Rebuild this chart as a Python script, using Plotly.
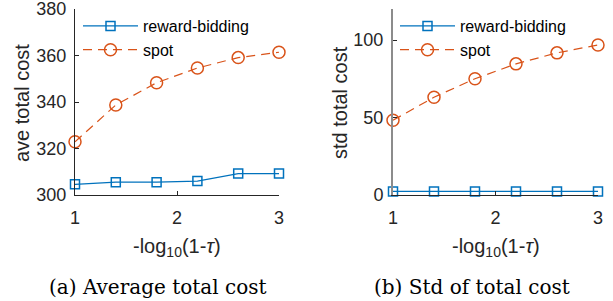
import plotly.graph_objects as go

x_vals = [1.0, 1.4, 1.8, 2.2, 2.6, 3.0]
ave_reward = [304.6, 305.5, 305.5, 306.0, 309.2, 309.2]
ave_spot = [322.9, 338.7, 348.3, 354.6, 359.1, 361.4]
std_reward = [2.3, 2.3, 2.3, 2.3, 2.3, 2.3]
std_spot = [48.2, 63.1, 75.0, 84.6, 91.7, 96.8]

names = ["reward-bidding", "spot"]
BLUE = "#0072BD"
ORANGE = "#D95319"
W, H = 613, 301
FONT = "Liberation Sans, Arial, sans-serif"
TXT = "#262626"

def px(x):
    return x / W

def py(y):
    return 1 - y / H

fig = go.Figure()

fig.add_trace(go.Scatter(x=x_vals, y=ave_reward, name=names[0], mode="lines+markers",
                         line=dict(color=BLUE, width=1.2),
                         marker=dict(symbol="square-open", size=9, color=BLUE, line=dict(width=1.5)),
                         xaxis="x", yaxis="y", legend="legend", cliponaxis=False))
fig.add_trace(go.Scatter(x=x_vals, y=ave_spot, name=names[1], mode="lines+markers",
                         line=dict(color=ORANGE, width=1.2, dash="9px,6px"),
                         marker=dict(symbol="circle-open", size=12, color=ORANGE, line=dict(width=1.5)),
                         xaxis="x", yaxis="y", legend="legend", cliponaxis=False))
fig.add_trace(go.Scatter(x=x_vals, y=std_reward, name=names[0], mode="lines+markers",
                         line=dict(color=BLUE, width=1.2),
                         marker=dict(symbol="square-open", size=9, color=BLUE, line=dict(width=1.5)),
                         xaxis="x2", yaxis="y2", legend="legend2", cliponaxis=False))
fig.add_trace(go.Scatter(x=x_vals, y=std_spot, name=names[1], mode="lines+markers",
                         line=dict(color=ORANGE, width=1.2, dash="9px,6px"),
                         marker=dict(symbol="circle-open", size=12, color=ORANGE, line=dict(width=1.5)),
                         xaxis="x2", yaxis="y2", legend="legend2", cliponaxis=False))

common_x = dict(range=[1, 3], tickvals=[1, 2, 3], ticks="inside", ticklen=4, showline=True,
                linecolor="#262626", linewidth=1, showgrid=False, zeroline=False, automargin=False,
                tickfont=dict(size=18, color=TXT, family=FONT), tickcolor="#262626",
                ticklabelstandoff=6, ticklabeloverflow="allow")
common_y = dict(ticks="inside", ticklen=4, showline=True, linecolor="#262626", linewidth=1,
                showgrid=False, zeroline=False, tickcolor="#262626", automargin=False,
                tickfont=dict(size=18, color=TXT, family=FONT), ticklabelstandoff=4,
                ticklabeloverflow="allow")

fig.update_layout(
    template="none",
    width=W, height=H, margin=dict(l=0, r=0, t=0, b=0, pad=0, autoexpand=False),
    paper_bgcolor="white", plot_bgcolor="white",
    font=dict(family=FONT, color=TXT),
    xaxis=dict(domain=[px(75), px(279)], anchor="y", **common_x),
    yaxis=dict(domain=[py(195), py(9)], anchor="x", range=[300, 380],
               tickvals=[300, 320, 340, 360, 380], **common_y),
    xaxis2=dict(domain=[px(393), px(598)], anchor="y2", **common_x),
    yaxis2=dict(domain=[py(195), py(9)], anchor="x2", range=[0, 120],
                tickvals=[0, 50, 100], **{**common_y, "linecolor": "#8c8c8c", "linewidth": 2}),
    legend=dict(x=px(78), y=py(9), xanchor="left", yanchor="top", bgcolor="rgba(0,0,0,0)",
                font=dict(size=16, color="black", family=FONT), itemwidth=55,
                tracegroupgap=0, borderwidth=0),
    legend2=dict(x=px(395), y=py(9), xanchor="left", yanchor="top", bgcolor="rgba(0,0,0,0)",
                 font=dict(size=16, color="black", family=FONT), itemwidth=55,
                 tracegroupgap=0, borderwidth=0),
    showlegend=True,
)

annotations = [
    dict(text="ave total cost", x=px(22), y=py(103), textangle=-90),
    dict(text="std total cost", x=px(340), y=py(103), textangle=-90),
    dict(text="-log<sub>10</sub>(1-<i>τ</i>)", x=px(177), y=py(247)),
    dict(text="-log<sub>10</sub>(1-<i>τ</i>)", x=px(496), y=py(247)),
]
for a in annotations:
    fig.add_annotation(xref="paper", yref="paper", showarrow=False, xanchor="center", yanchor="middle",
                       font=dict(size=20, color=TXT, family=FONT), **a)

captions = [("(a) Average total cost", 157), ("(b) Std of total cost", 472)]
for text, cx in captions:
    fig.add_annotation(xref="paper", yref="paper", showarrow=False, xanchor="center", yanchor="middle",
                       text=text, x=px(cx), y=py(287),
                       font=dict(size=20, color="black", family="DejaVu Serif, serif"))

fig.write_html("out.html", config={"displayModeBar": False},
               post_script="document.body.style.margin='0';document.body.style.overflow='hidden';")
